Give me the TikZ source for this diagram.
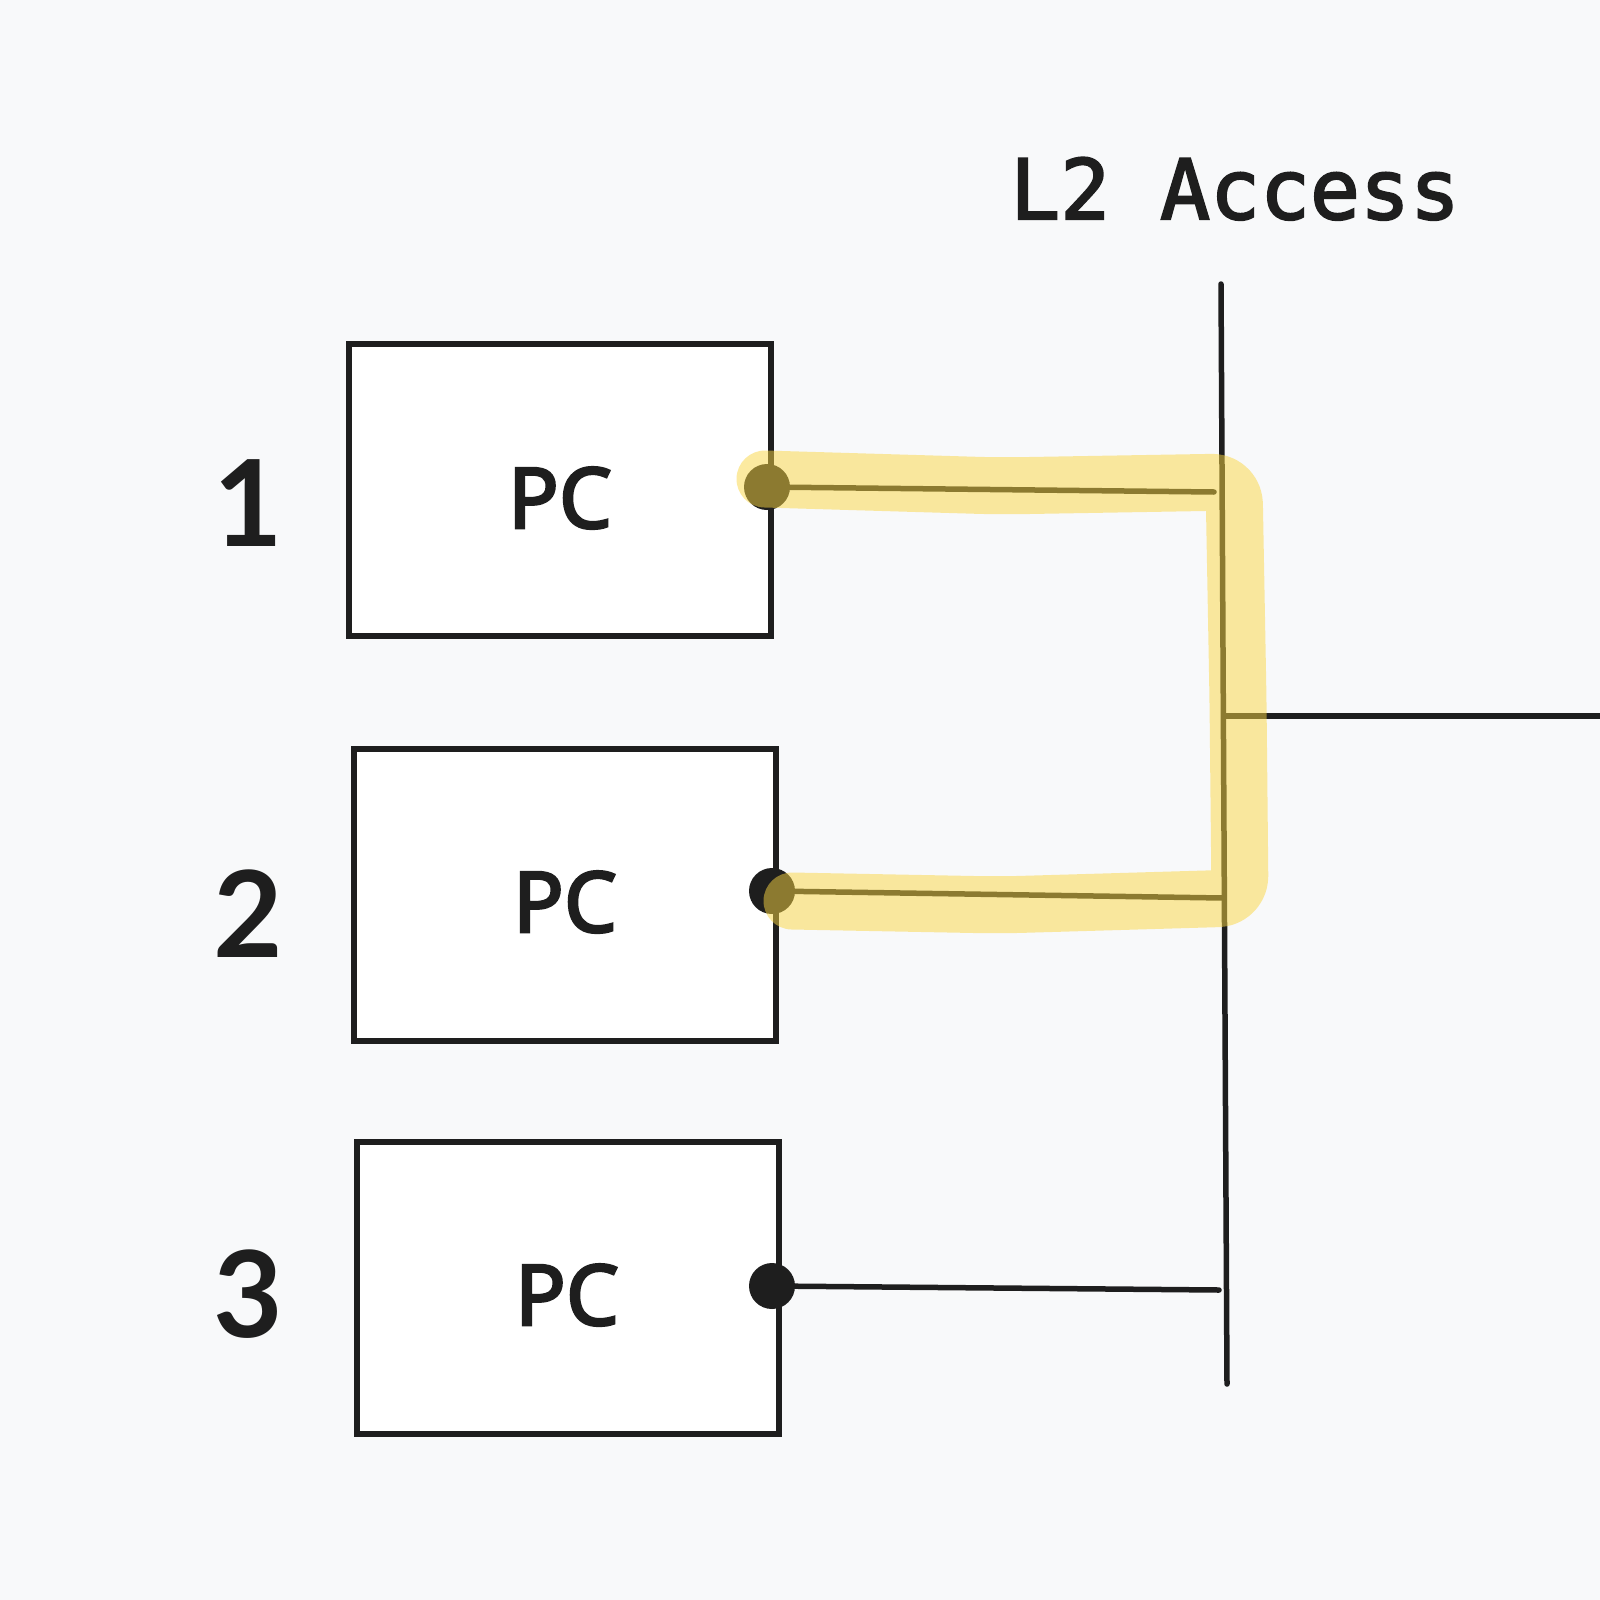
\documentclass[tikz,border=0pt]{standalone}
\usepackage{fontspec}
\setmainfont{Noto Sans}
\newfontfamily\monof[FakeBold=2.5]{DejaVu Sans Mono}
\newfontfamily\pcf[FakeBold=3]{Noto Sans}
\newfontfamily\numf{Lato Bold}
\definecolor{bgc}{HTML}{F8F9FA}
\definecolor{ink}{HTML}{1E1E1E}
\definecolor{hl}{RGB}{250,214,66}
\tikzset{
  pcbox/.style={draw=ink, fill=white, line width=6pt, minimum width=422pt, minimum height=292pt, inner sep=0pt, outer sep=0pt},
  pctext/.style={font=\pcf\fontsize{84}{84}\selectfont, text=ink, anchor=base, inner sep=0pt},
  numtext/.style={font=\numf\fontsize{120}{120}\selectfont, text=ink, anchor=base, inner sep=0pt},
  port/.style={circle, fill=ink, minimum size=46pt, inner sep=0pt},
  wire/.style={draw=ink, line width=5.5pt, line cap=round},
  highlight/.style={draw=hl, opacity=0.5, line width=57pt, line cap=round, line join=round, rounded corners=22pt}
}
\begin{document}
\begin{tikzpicture}[x=1pt,y=-1pt]
\useasboundingbox (0,0) rectangle (1600,1600);
\fill[bgc] (0,0) rectangle (1600,1600);
% title
\node[font=\monof\fontsize{83}{83}\selectfont, text=ink, anchor=base west, inner sep=0pt] (title) at (1010,219) {L2 Access};
% boxes
\node[pcbox] (b1) at (559.5,490) {};
\node[pcbox] (b2) at (564.5,894.5) {};
\node[pcbox] (b3) at (567.5,1287.5) {};
\node[pctext] (pc1) at (560,528) {PC};
\node[pctext] (pc2) at (565,932) {PC};
\node[pctext] (pc3) at (567,1325) {PC};
\node[numtext] (n1) at (248,546) {1};
\node[numtext] (n2) at (248,957) {2};
\node[numtext] (n3) at (248,1337) {3};
% bus
\coordinate (bt) at (1221,284);
\coordinate (bb) at (1227,1384);
\coordinate (jn) at (1225,716);
\coordinate (out) at (1600,716);
\coordinate (t1) at (1214,492);
\coordinate (t2) at (1223,898);
\coordinate (t3) at (1219,1290);
\draw[wire] (bt) -- (bb);
\draw[wire] (jn) -- (out);
% ports
\node[port] (d1) at (767,487) {};
\node[port] (d2) at (772,891) {};
\node[port] (d3) at (772,1286) {};
\draw[wire] (d1.center) -- (t1);
\draw[wire] (d2.center) -- (t2);
\draw[wire] (d3.center) -- (t3);
% highlight
\draw[highlight] (765,479) -- (1000,486) -- (1234,482) -- (1238,700) -- (1240,898) -- (1000,905) -- (792,901);
\end{tikzpicture}
\end{document}
